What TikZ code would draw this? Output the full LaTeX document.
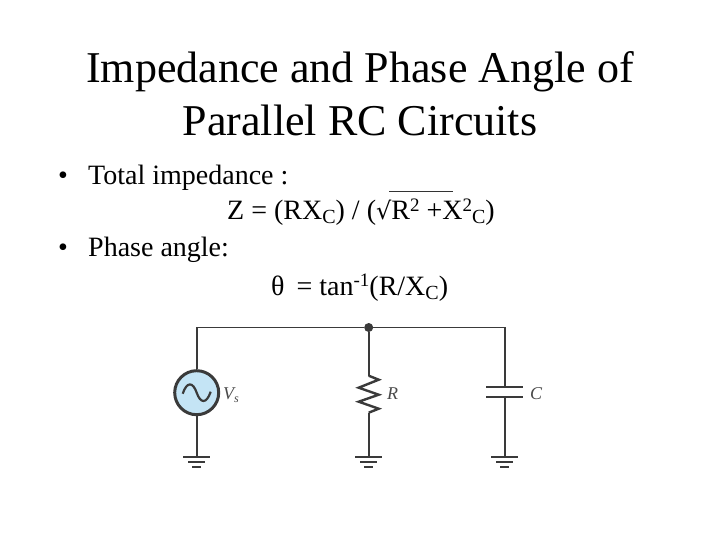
\documentclass[tikz,border=0pt]{standalone}
\usepackage{fontspec}
\setmainfont{Liberation Serif}
\newcommand{\pxfont}[1]{\fontsize{#1bp}{#1bp}\selectfont}
\newfontfamily\symfont{DejaVu Serif}
\tikzset{
  x=1bp,y=-1bp,
  txt/.style={inner sep=0pt,anchor=base west,text=black},
  ttl/.style={inner sep=0pt,anchor=base,font=\pxfont{44}},
  wire/.style={draw=wirecol,line width=1.8pt},
  gnd/.style={draw=wirecol,line width=2.3pt},
  lab/.style={inner sep=0pt,anchor=base west,text=labcol,font=\pxfont{18}\itshape},
}
\definecolor{wirecol}{HTML}{3A3A3A}
\definecolor{labcol}{HTML}{4A4A4A}
\definecolor{srcfill}{HTML}{C4E4F5}
\begin{document}
\begin{tikzpicture}
\useasboundingbox (0,0) rectangle (720,540);
\fill[white] (0,0) rectangle (720,540);
\node[ttl] (t1) at (360,83) {Impedance and Phase Angle of};
\node[ttl] (t2) at (360,136) {Parallel RC Circuits};
\node[txt,font=\pxfont{28}] (b1) at (58,185) {•};
\node[txt,font=\pxfont{28}] (l1) at (88,185) {Total impedance :};
\node[txt,font=\pxfont{28}] (f1) at (227,220) {Z = (RX\raisebox{-4bp}{\pxfont{20}C}) / (\raisebox{0pt}{\symfont\pxfont{24}√}R\raisebox{8bp}{\pxfont{19}2} +X\raisebox{8bp}{\pxfont{19}2}\raisebox{-4bp}{\pxfont{20}C})};
\coordinate (sa) at (389,191);
\coordinate (sb) at (453,191);
\draw[line width=0.9pt,black!80] (sa) -- (sb);
\node[txt,font=\pxfont{28}] (b2) at (58,257) {•};
\node[txt,font=\pxfont{28}] (l2) at (88,257) {Phase angle:};
\node[txt,font=\pxfont{28}] (f2) at (271,295) {θ\hspace{5bp} = tan\raisebox{8bp}{\pxfont{19}-1}(R/X\raisebox{-4bp}{\pxfont{20}C})};
% circuit
\node[circle,draw=wirecol,line width=3pt,fill=srcfill,minimum size=44bp,inner sep=0pt] (src) at (196.7,392.7) {};
\node[circle,fill=wirecol,minimum size=9bp,inner sep=0pt] (dot) at (368.7,327.5) {};
\coordinate (tl) at (196.7,327.5);
\coordinate (tr) at (504.7,327.5);
\coordinate (ra) at (368.7,375.7);
\coordinate (rb) at (368.7,412.7);
\coordinate (ca) at (504.7,387.3);
\coordinate (cb) at (504.7,396.7);
\coordinate (g1) at (196.7,456.7);
\coordinate (g2) at (368.7,456.7);
\coordinate (g3) at (504.7,456.7);
\draw[wire] (src) -- (tl) -- (dot) -- (tr) -- (ca);
\draw[wire] (dot) -- (ra);
\draw[wire] (src) -- (g1);
\draw[wire] (rb) -- (g2);
\draw[wire] (cb) -- (g3);
\draw[wire,line width=2.4pt,line join=miter] (ra) -- ++(10,4) -- ++(-20,8) -- ++(20,7) -- ++(-20,7) -- ++(20,7) -- ++(-10,4);
\draw[gnd] ([xshift=-18.3bp]ca) -- ([xshift=18.3bp]ca);
\draw[gnd] ([xshift=-18.3bp]cb) -- ([xshift=18.3bp]cb);
\foreach \g in {g1,g2,g3}{
  \draw[gnd] ([xshift=-13.5bp]\g) -- ([xshift=13.5bp]\g);
  \draw[gnd] ([xshift=-8.5bp,yshift=-5bp]\g) -- ([xshift=8.5bp,yshift=-5bp]\g);
  \draw[gnd] ([xshift=-4.5bp,yshift=-10bp]\g) -- ([xshift=4.5bp,yshift=-10bp]\g);
}
\draw[wirecol,line width=2.2pt] (182.7,393.7) .. controls (187,381) and (193,382) .. (196.7,392.7) .. controls (200.4,403.4) and (206.4,404.4) .. (210.7,391.7);
\node[lab] (vs) at (223,399) {V\raisebox{-3bp}{\pxfont{12}s}};
\node[lab] (rl) at (387,399) {R};
\node[lab] (cl) at (530,399) {C};
\end{tikzpicture}
\end{document}
